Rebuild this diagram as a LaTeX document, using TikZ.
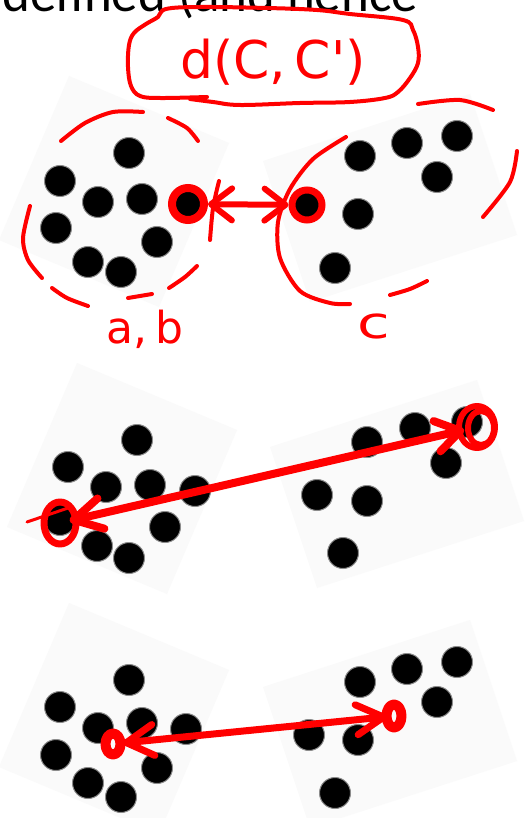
\documentclass[tikz,border=0pt]{standalone}
\usepackage{fontspec}
\setmainfont{Carlito}
\newfontfamily\handfont{DejaVu Sans}
\usetikzlibrary{arrows.meta}
\definecolor{patchgray}{gray}{0.982}
\definecolor{inkred}{RGB}{255,0,0}
\begin{document}
\begin{tikzpicture}[x=1pt,y=-1pt,
  dot/.style={circle,fill=black,draw=black!45,line width=1pt,minimum size=31pt,inner sep=0pt},
  ink/.style={draw=inkred,line width=4pt,line cap=round,line join=round},
  patch/.style={fill=patchgray,draw=none},
  ringnode/.style={circle,draw=inkred,inner sep=0pt},
  handtext/.style={text=inkred,inner sep=0pt,font=\handfont},
  barbA/.style={arrows={Straight Barb[length=21pt,width=32pt,round]-Straight Barb[length=21pt,width=32pt,round]}},
  barbB/.style={arrows={Straight Barb[length=28pt,width=31pt,round]-Straight Barb[length=24pt,width=31pt,round]}},
  barbC/.style={arrows={Straight Barb[length=27pt,width=31pt,round]-Straight Barb[length=27pt,width=30pt,round]}}]
\useasboundingbox (0,0) rectangle (528,818);
\clip (0,0) rectangle (528,818);
\fill[white] (0,0) rectangle (528,818);

% faint scanned patches
\path[patch] (69,76) -- (229,143) -- (159,307) -- (-1,240) -- cycle;
\path[patch] (263,161) -- (470,94) -- (517,235) -- (310,302) -- cycle;
\path[patch] (77,363) -- (237,430) -- (167,594) -- (7,527) -- cycle;
\path[patch] (270,447) -- (477,380) -- (524,521) -- (317,588) -- cycle;
\path[patch] (69,603) -- (229,670) -- (159,834) -- (-1,767) -- cycle;
\path[patch] (263,687) -- (470,620) -- (517,761) -- (310,828) -- cycle;

% heading text (cut at top, as in the reference)
\node[anchor=base west,inner sep=0pt,font=\fontsize{53}{53}\selectfont] (head) at (2,12) {defined (and hence};

% ---------- panel 1 ----------
\foreach \n/\p in {1/{129,153},2/{60,181},3/{98,202},4/{142,199},5/{56,228},6/{157,242},7/{88,262},8/{121,272},9/{187,206}}
  \node[dot] (ua\n) at (\p) {};
\foreach \n/\p in {1/{360,156},2/{407,143},3/{457,136},4/{437,177},5/{358,214},6/{335,268},7/{306,207}}
  \node[dot] (ub\n) at (\p) {};

% box with d(C,C')
\node[handtext,font=\handfont\fontsize{52}{52}\selectfont] (dist) at (273,62) {d(C,\,C')};
\draw[ink] plot[smooth,tension=0.6] coordinates {(207,97) (160,98) (140,96) (131,86) (128,67) (129,45) (134,33) (146,24) (158,17) (166,9) (200,7) (267,8) (317,10) (350,14) (403,20) (413,30) (418,47) (418,63) (410,78) (398,92) (385,98) (350,102) (300,103) (240,105) (213,102) (190,99)};

% dashed hull around left cluster
\draw[ink] plot[smooth] coordinates {(61,141) (85,123) (113,112) (143,112)};
\draw[ink] plot[smooth] coordinates {(168,118) (187,128) (198,141)};
\draw[ink] plot[smooth] coordinates {(30,206) (23,238) (28,260) (42,278)};
\draw[ink] plot[smooth] coordinates {(52,288) (67,298) (88,306)};
\draw[ink] plot[smooth] coordinates {(128,298) (152,294)};
\draw[ink] plot[smooth] coordinates {(169,288) (185,277) (197,266)};
\draw[ink] plot[smooth] coordinates {(219,181) (213,208) (210,240)};

% hull around right cluster
\draw[ink] plot[smooth] coordinates {(418,104) (460,100) (493,110)};
\draw[ink] plot[smooth] coordinates {(346,137) (313,159) (290,189) (278,222) (280,258) (300,291) (330,303) (350,304)};
\draw[ink] plot[smooth] coordinates {(390,295) (410,289) (427,281)};
\draw[ink] plot[smooth] coordinates {(517,151) (510,182) (483,217)};

% rings and arrow
\node[ringnode,line width=8pt,minimum size=32pt] (ra) at (188,204) {};
\node[ringnode,line width=7pt,minimum size=30pt] (rb) at (307,205) {};
\draw[ink,line width=6pt,barbA] (ra) -- (rb);

% labels
\node[handtext,anchor=base,font=\handfont\fontsize{44}{44}\selectfont] (lab) at (145,343) {a,\,b};
\node[handtext,anchor=base,font=\handfont\fontsize{44}{44}\selectfont] (lc) at (374,338) {\scalebox{1.35}[1]{c}};

% ---------- panel 2 ----------
\foreach \n/\p in {1/{137,440},2/{68,467},3/{106,487},4/{150,485},5/{195,491},6/{60,520},7/{165,527},8/{97,546},9/{129,558}}
  \node[dot] (va\n) at (\p) {};
\foreach \n/\p in {1/{367,442},2/{415,428},3/{467,422},4/{446,463},5/{317,495},6/{367,501},7/{343,553}}
  \node[dot] (vb\n) at (\p) {};
\coordinate (vl) at (60,523);
\coordinate (vr) at (477,427);
\draw[ink,line width=7pt] (vl) ellipse [x radius=16pt,y radius=21pt];
\draw[ink,line width=3pt] (27,522) -- (68,508);
\draw[ink,line width=6pt] (vr) ellipse [x radius=18pt,y radius=21pt];
\draw[ink,line width=6pt] (481,428) ellipse [x radius=13pt,y radius=17pt];
\draw[ink,line width=8pt,barbB,shorten <=10pt,shorten >=13pt] (vl) -- (vr);

% ---------- panel 3 ----------
\foreach \n/\p in {1/{129,680},2/{60,707},3/{98,728},4/{142,723},5/{186,729},6/{56,755},7/{157,768},8/{88,783},9/{121,797}}
  \node[dot] (wa\n) at (\p) {};
\foreach \n/\p in {1/{360,682},2/{407,669},3/{457,662},4/{437,702},5/{309,735},6/{358,740},7/{335,793}}
  \node[dot] (wb\n) at (\p) {};
\coordinate (wl) at (113,744);
\coordinate (wr) at (394,716);
\draw[ink,line width=10pt] (wl) ellipse [x radius=7.5pt,y radius=10.5pt];
\draw[ink,line width=10pt] (wr) ellipse [x radius=7.5pt,y radius=11.5pt];
\draw[ink,line width=7pt,barbC,shorten <=10pt,shorten >=7pt] (wl) -- (wr);
\end{tikzpicture}
\end{document}
